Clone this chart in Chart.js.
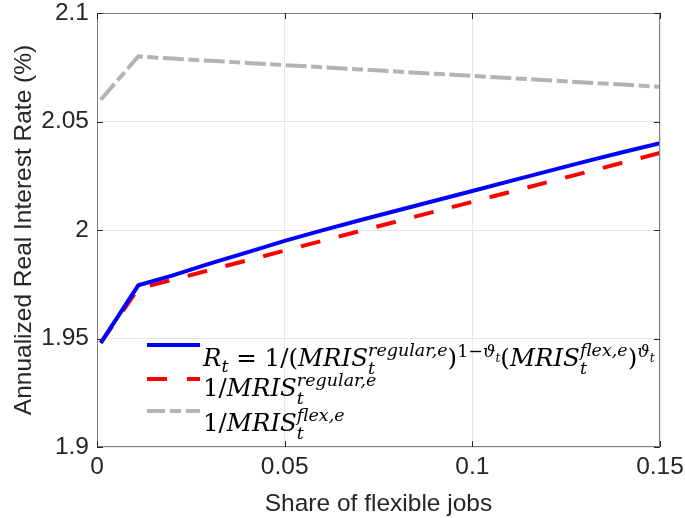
<!DOCTYPE html>
<html>
<head>
<meta charset="utf-8">
<script src="https://cdn.jsdelivr.net/npm/chart.js@4.4.1/dist/chart.umd.min.js"></script>
<style>
  body { margin: 0; background: #fff; }
  #wrap { position: relative; width: 685px; height: 518px; }
  .fila {
    position: absolute; left: 203px; white-space: nowrap;
    font-family: "DejaVu Serif", "Liberation Serif", serif; font-size: 24.5px; line-height: 1; color: #000;
  }
  .m { font-style: italic; }
  .ss { display: inline-block; position: relative; top: 8px; font-size: 17.5px; line-height: 1.05; font-style: italic; vertical-align: baseline; }
  .ss span { display: block; }
  sub, sup { font-size: 17.5px; line-height: 0; }
  sup sub { font-size: 12px; }
</style>
</head>
<body>
<div id="wrap">
  <canvas id="grafico" width="685" height="518"></canvas>
  <div class="fila" style="top:333px"><span class="m">R<sub>t</sub></span> = 1/(<span class="m">MRIS</span><span class="ss"><span>regular,e</span><span>t</span></span>)<sup>1−<i>ϑ<sub>t</sub></i></sup>(<span class="m">MRIS</span><span class="ss"><span>flex,e</span><span>t</span></span>)<sup><i>ϑ<sub>t</sub></i></sup></div>
  <div class="fila" style="top:363px">1/<span class="m">MRIS</span><span class="ss"><span>regular,e</span><span>t</span></span></div>
  <div class="fila" style="top:398px">1/<span class="m">MRIS</span><span class="ss"><span>flex,e</span><span>t</span></span></div>
</div>
<script>
document.addEventListener('DOMContentLoaded', function () {

    const shareFlex = [0.001, 0.011, 0.02, 0.03, 0.04, 0.05, 0.06, 0.07, 0.08, 0.09, 0.10, 0.11, 0.12, 0.13, 0.14, 0.15];
    const tasaTotal = [1.948, 1.9745, 1.979, 1.9845, 1.9897, 1.995, 1.9998, 2.0045, 2.009, 2.0135, 2.018, 2.0225, 2.027, 2.0315, 2.0358, 2.040];
    const tasaRegular = [1.948, 1.973, 1.977, 1.9815, 1.986, 1.9905, 1.995, 1.9995, 2.004, 2.0085, 2.013, 2.0175, 2.022, 2.0265, 2.031, 2.0355];
    const tasaFlex = [2.060, 2.080, 2.079, 2.078, 2.077, 2.076, 2.075, 2.074, 2.073, 2.072, 2.071, 2.070, 2.069, 2.068, 2.067, 2.066];

    const ticksX = [0, 0.05, 0.1, 0.15];
    const ticksY = [1.9, 1.95, 2, 2.05, 2.1];

    const puntos = (ys) => shareFlex.map((x, i) => ({ x: x, y: ys[i] }));

    // caja, marcas interiores y muestras de la leyenda
    const cajaPlugin = {
        id: 'caja',
        afterDatasetsDraw(chart) {
            const ctx = chart.ctx;
            const a = chart.chartArea;
            const sx = chart.scales.x, sy = chart.scales.y;
            ctx.save();
            ctx.strokeStyle = '#808080';
            ctx.lineWidth = 1;
            ctx.strokeRect(a.left + 0.5, a.top + 0.5, a.right - a.left - 1, a.bottom - a.top - 1);
            ctx.strokeStyle = '#262626';
            ticksX.forEach(v => {
                const px = Math.round(sx.getPixelForValue(v)) + 0.5;
                ctx.beginPath();
                ctx.moveTo(px, a.top); ctx.lineTo(px, a.top + 6);
                ctx.moveTo(px, a.bottom); ctx.lineTo(px, a.bottom - 6);
                ctx.stroke();
            });
            ticksY.forEach(v => {
                const py = Math.round(sy.getPixelForValue(v)) + 0.5;
                ctx.beginPath();
                ctx.moveTo(a.left, py); ctx.lineTo(a.left + 6, py);
                ctx.moveTo(a.right, py); ctx.lineTo(a.right - 6, py);
                ctx.stroke();
            });

            const filasY = [345, 379, 411];
            const dashLeyenda = [[], [20, 20], [18, 5, 11, 5]];
            chart.data.datasets.forEach((ds, i) => {
                ctx.strokeStyle = ds.borderColor;
                ctx.lineWidth = ds.borderWidth;
                ctx.setLineDash(dashLeyenda[i]);
                ctx.beginPath();
                ctx.moveTo(147, filasY[i]);
                ctx.lineTo(200, filasY[i]);
                ctx.stroke();
            });
            ctx.restore();
        }
    };

    const fuente = { family: '"Liberation Sans", Arial, sans-serif', size: 24.5, lineHeight: 1 };

    new Chart(document.getElementById('grafico').getContext('2d'), {
        type: 'line',
        data: {
            datasets: [
                { data: puntos(tasaTotal), borderColor: '#0000ff', borderWidth: 4, pointRadius: 0, tension: 0 },
                { data: puntos(tasaRegular), borderColor: '#ff0000', borderWidth: 4, borderDash: [20, 19], pointRadius: 0, tension: 0 },
                { data: puntos(tasaFlex), borderColor: '#b3b3b3', borderWidth: 4, borderDash: [21, 4.5, 11, 4.5], pointRadius: 0, tension: 0 }
            ]
        },
        options: {
            responsive: false,
            animation: false,
            layout: { padding: { top: 13, right: 25, left: 0, bottom: 0 } },
            plugins: { legend: { display: false }, tooltip: { enabled: false } },
            scales: {
                x: {
                    type: 'linear', min: 0, max: 0.15,
                    afterBuildTicks: s => { s.ticks = ticksX.map(v => ({ value: v })); },
                    afterFit: s => { s.height = 71; s.paddingLeft = 0; s.paddingRight = 0; },
                    ticks: { color: '#262626', font: fuente, padding: 8, maxRotation: 0, callback: v => String(v) },
                    grid: { color: '#e6e6e6', drawTicks: false },
                    border: { display: false },
                    title: { display: true, text: 'Share of flexible jobs', color: '#262626', font: fuente, padding: { top: 0, bottom: 2 } }
                },
                y: {
                    type: 'linear', min: 1.9, max: 2.1,
                    afterBuildTicks: s => { s.ticks = ticksY.map(v => ({ value: v })); },
                    afterFit: s => { s.width = 97; s.paddingTop = 0; s.paddingBottom = 0; },
                    ticks: { color: '#262626', font: fuente, padding: 8, callback: v => String(v) },
                    grid: { color: '#e6e6e6', drawTicks: false },
                    border: { display: false },
                    title: { display: true, text: 'Annualized Real Interest Rate (%)', color: '#262626', font: fuente, padding: { top: 12, bottom: 0 } }
                }
            }
        },
        plugins: [cajaPlugin]
    });
});
</script>
</body>
</html>
